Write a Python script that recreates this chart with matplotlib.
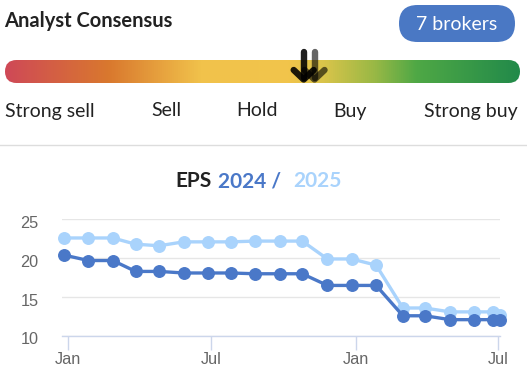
import matplotlib
matplotlib.use("Agg")
import matplotlib.pyplot as plt
import matplotlib.transforms as mtransforms
from matplotlib.patches import FancyBboxPatch
from matplotlib.colors import LinearSegmentedColormap
import numpy as np
import pandas as pd

# ---------------- data ----------------
dates = pd.to_datetime([
    "2023-12-27", "2024-01-27", "2024-02-27", "2024-03-27", "2024-04-26",
    "2024-05-27", "2024-06-27", "2024-07-26", "2024-08-26", "2024-09-27",
    "2024-10-25", "2024-11-26", "2024-12-27", "2025-01-27", "2025-03-02",
    "2025-03-30", "2025-05-01", "2025-06-01", "2025-06-25", "2025-07-03",
])
eps_2024 = [20.4, 19.7, 19.7, 18.3, 18.3, 18.1, 18.1, 18.1, 18.0, 18.0,
            18.0, 16.5, 16.5, 16.5, 12.6, 12.6, 12.1, 12.1, 12.1, 12.1]
eps_2025 = [22.6, 22.6, 22.6, 21.8, 21.6, 22.1, 22.1, 22.1, 22.2, 22.2,
            22.2, 19.9, 19.9, 19.1, 13.6, 13.6, 13.1, 13.1, 13.1, 12.7]
y_ticks = [10, 15, 20, 25]
x_tick_dates = pd.to_datetime(["2024-01-01", "2024-07-01", "2025-01-01", "2025-07-01"])
x_tick_labels = ["Jan", "Jul", "Jan", "Jul"]
scale_labels = ["Strong sell", "Sell", "Hold", "Buy", "Strong buy"]
n_brokers = 7
consensus_marks = [0.580, 0.601]   # position along the scale (0 = strong sell, 1 = strong buy)

DARK = "#4a78c8"
LIGHT = "#a9d3fc"
TXT = "#222222"

W, H = 527, 380
fig = plt.figure(figsize=(W / 100, H / 100), dpi=100)
fig.patch.set_facecolor("white")

# overlay in pixel coordinates
ov = fig.add_axes([0, 0, 1, 1])
ov.set_xlim(0, W)
ov.set_ylim(H, 0)
ov.axis("off")

ov.text(4, 27, "Analyst Consensus", fontsize=14.5, fontweight="bold",
        family="Lato", color=TXT, va="baseline", ha="left")

pill = FancyBboxPatch((399, 5), 116, 37, boxstyle="round,pad=0,rounding_size=18.5",
                      fc="#4a78c4", ec="none")
ov.add_patch(pill)
ov.text(457, 24, f"{n_brokers} brokers", fontsize=14, family="Lato", color="white",
        ha="center", va="center")

# gradient bar
bx0, bx1, by0, by1 = 5, 520, 60, 83
cmap = LinearSegmentedColormap.from_list("cons", [
    (0.0, "#cf4957"), (0.2, "#d9782e"), (0.38, "#f1c24b"), (0.55, "#f2c54b"),
    (0.62, "#d9c44a"), (0.72, "#98b845"), (0.8, "#4fa845"), (1.0, "#228a4a")])
grad = np.linspace(0, 1, 512).reshape(1, -1)
im = ov.imshow(grad, cmap=cmap, extent=(bx0, bx1, by1, by0), aspect="auto", zorder=2)
clip = FancyBboxPatch((bx0, by0), bx1 - bx0, by1 - by0,
                      boxstyle="round,pad=0,rounding_size=11.5", fc="none", ec="none")
ov.add_patch(clip)
im.set_clip_path(clip)
ov.set_xlim(0, W)
ov.set_ylim(H, 0)

for i, m in enumerate(consensus_marks):
    cx = bx0 + m * (bx1 - bx0)
    alpha = 0.88 if i == 0 else 0.6
    kw = dict(color="black", lw=4.6, solid_capstyle="round", solid_joinstyle="round",
              alpha=alpha, zorder=5 + i)
    ov.plot([cx, cx], [52, 78], **kw)
    ov.plot([cx - 10, cx, cx + 10], [70, 79.5, 70], **kw)

label_pos = [(5, "left"), (166, "center"), (257, "center"), (350, "center"), (518, "right")]
for lab, (x, ha) in zip(scale_labels, label_pos):
    ov.text(x, 116.5, lab, fontsize=14, family="Lato", color=TXT, ha=ha, va="baseline")

ov.plot([0, W], [144.5, 144.5], color="#dddddd", lw=1)

# EPS title
ov.text(175, 187, "EPS", fontsize=15, fontweight="bold", family="Lato", color=TXT,
        ha="left", va="baseline")
ov.text(218, 187, "2024 /", fontsize=15, fontweight="bold", family="Lato", color=DARK,
        ha="left", va="baseline")
ov.text(293, 187, "2025", fontsize=15, fontweight="bold", family="Lato", color=LIGHT,
        ha="left", va="baseline")

# ---------------- chart ----------------
left_px, right_px, top_px, bot_px = 62, 500, 219.3, 336
ax = fig.add_axes([left_px / W, 1 - bot_px / H, (right_px - left_px) / W, (bot_px - top_px) / H])
ax.set_facecolor("none")

d0 = pd.Timestamp("2024-01-01")
d1 = pd.Timestamp("2025-07-01")
ppd = (498 - 68) / (d1 - d0).days
xmin = d0 - pd.Timedelta(days=(68 - left_px) / ppd)
xmax = d1 + pd.Timedelta(days=(right_px - 498) / ppd)
ax.set_xlim(xmin, xmax)
ax.set_ylim(10, 25)

ax.plot(dates, eps_2025, color=LIGHT, lw=2.4, marker="o", ms=8.3, clip_on=False, zorder=3)
ax.plot(dates, eps_2024, color=DARK, lw=2.4, marker="o", ms=8.3, clip_on=False, zorder=4)

ax.set_yticks(y_ticks)
ax.set_yticklabels([str(t) for t in y_ticks], family="Liberation Sans", fontsize=11.7,
                   color="#666666")
ax.set_xticks(x_tick_dates)
ax.set_xticklabels(x_tick_labels, family="Liberation Sans", fontsize=11.7, color="#666666")
ax.tick_params(axis="y", length=0, pad=17)
ax.tick_params(axis="x", length=10, width=1, color="#ccd6eb", pad=1.5)
off = mtransforms.ScaledTranslation(0, -2.5 / 100, fig.dpi_scale_trans)
for lbl in ax.get_yticklabels():
    lbl.set_transform(lbl.get_transform() + off)
ax.grid(axis="y", color="#e6e6e6", lw=1)
ax.set_axisbelow(True)
for s in ["top", "right", "left"]:
    ax.spines[s].set_visible(False)
ax.spines["bottom"].set_color("#ccd6eb")
ax.spines["bottom"].set_linewidth(1)

fig.savefig("out.png", dpi=100, facecolor="white")
